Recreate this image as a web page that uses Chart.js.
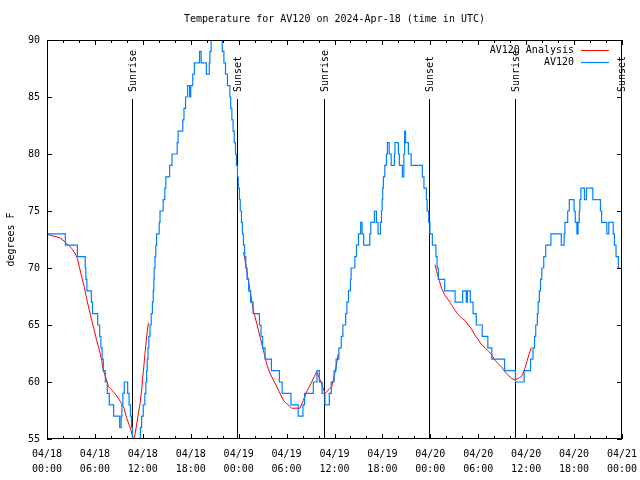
<!DOCTYPE html>
<html>
<head>
<meta charset="utf-8">
<script src="https://cdn.jsdelivr.net/npm/chart.js@4"></script>
<style>html,body{margin:0;padding:0;background:#fff}canvas{display:block}</style>
</head>
<body>
<canvas id="c" width="640" height="480"></canvas>
<script>
// ---------------- data ----------------
const titleText = 'Temperature for AV120 on 2024-Apr-18 (time in UTC)';
const yAxisTitle = 'degrees F';
const seriesNames = ['AV120 Analysis', 'AV120'];

const xTickHours = [0, 6, 12, 18, 24, 30, 36, 42, 48, 54, 60, 66, 72];
const xTickDates = ['04/18','04/18','04/18','04/18','04/19','04/19','04/19','04/19','04/20','04/20','04/20','04/20','04/21'];
const xTickTimes = ['00:00','06:00','12:00','18:00','00:00','06:00','12:00','18:00','00:00','06:00','12:00','18:00','00:00'];
const yTickValues = [55, 60, 65, 70, 75, 80, 85, 90];

const sunEventHours = [10.68, 23.83, 34.72, 47.87, 58.66, 71.9];
const sunEventNames = ['Sunrise', 'Sunset', 'Sunrise', 'Sunset', 'Sunrise', 'Sunset'];

// station observations: hour (since 04/18 00:00 UTC) at which the reading changed, and the new reading (°F)
const stationHours = [0,2.3,3.8,4.78,4.86,5.0,5.55,5.7,6.35,6.6,6.75,6.9,7.05,7.3,7.55,7.8,8.35,9.1,9.28,9.38,9.5,9.68,10.1,10.28,10.45,10.58,10.7,10.82,
11.45,11.7,11.85,12.05,12.25,12.38,12.48,12.55,12.65,12.75,12.9,13.05,13.2,13.3,13.38,13.42,13.52,13.62,13.72,14.05,14.15,14.55,14.75,14.88,15.35,15.65,16.3,16.42,17.0,17.15,17.35,17.6,17.85,18.0,18.25,18.45,19.1,19.3,19.95,20.32,20.4,20.55,20.7,
21.75,21.95,22.15,22.35,22.6,22.9,23.0,23.15,23.3,23.45,23.6,23.72,23.85,23.95,24.1,24.2,24.35,24.47,24.6,24.75,24.9,25.05,25.25,25.5,25.8,26.6,26.8,27.0,27.3,28.1,29.1,29.45,30.55,31.45,32.05,32.25,33.35,33.8,34.1,34.45,34.8,35.35,35.6,35.95,36.2,36.55,36.85,37.05,37.4,37.55,37.75,38.0,38.08,38.55,38.75,39.0,39.28,39.45,39.65,40.42,40.55,41.0,41.25,41.45,41.75,41.88,41.96,42.03,42.12,42.3,42.5,42.63,42.85,43.1,43.5,43.58,44.0,44.12,44.5,44.68,44.78,44.9,45.25,45.6,47.0,47.2,47.5,47.6,47.8,47.95,48.25,48.7,48.85,49.0,49.8,51.1,52.05,52.5,52.65,53.0,53.35,53.75,54.5,55.2,55.7,57.3,58.65,59.75,60.55,60.85,61.05,61.2,61.4,61.5,61.65,61.8,61.95,62.2,62.45,63.1,64.4,64.75,64.85,65.2,65.4,66.0,66.15,66.35,66.5,66.65,66.72,66.85,67.3,67.55,68.35,69.3,69.45,70.1,70.35,70.9,71.05,71.25,71.55,71.8];
const stationTemps = [73,72,71,70,69,68,67,66,65,64,63,62,61,60,59,58,57,56,57,58,59,60,59,58,57,56,55,54,
55,56,57,58,59,60,61,62,63,64,65,66,67,68,69,70,71,72,73,74,75,76,77,78,79,80,81,82,83,84,85,86,85,86,87,88,89,88,87,88,89,90,91,
90,89,88,87,86,85,84,83,82,81,80,79,78,77,76,75,74,73,72,71,70,69,68,67,66,65,64,63,62,61,60,59,58,57,58,59,60,61,60,59,58,59,60,61,62,63,64,65,66,67,68,69,70,71,72,73,74,73,72,73,74,75,74,73,74,75,76,77,78,79,80,81,80,79,80,81,80,79,78,80,82,81,80,79,78,77,76,75,74,73,72,71,70,69,68,67,68,67,68,67,66,65,64,63,62,61,60,61,62,63,64,65,66,67,68,69,70,71,72,73,72,73,74,75,76,75,74,73,74,75,76,77,76,77,76,75,74,73,74,73,72,71,70,70];

// analysis (smooth) series; null = no analysis
const analysisHours = [0,0.8,1.6,2.25,2.7,3.1,3.5,3.8,4.05,4.35,4.65,5.0,5.3,5.6,5.9,6.2,6.55,6.85,7.05,7.4,7.7,8.1,8.5,8.9,9.35,9.65,9.9,10.2,10.5,10.75,10.88,11.05,11.25,11.45,11.65,11.85,12.05,12.27,12.48,12.7,
18,
24.62,25.0,25.4,25.84,26.26,26.67,27.09,27.5,27.9,28.76,29.59,30.64,31.68,32.1,32.52,33.14,33.77,34.19,34.81,35.65,36.06,36.48,
42,
48.59,48.79,49.12,49.42,49.83,50.25,50.67,51.09,51.5,51.92,52.34,52.76,53.18,53.6,54.01,54.43,54.85,55.27,55.68,56.1,56.52,56.94,57.35,57.77,58.19,58.6,59.02,59.44,59.85,60.14,60.39,60.65];
const analysisTemps = [72.95,72.8,72.65,72.3,72.0,71.7,71.3,70.85,70.1,69.2,68.4,67.2,66.3,65.4,64.6,63.7,62.8,61.9,61.05,60.3,59.6,59.3,59.0,58.6,58.1,57.7,57.0,56.4,55.8,55.2,54.9,55.5,56.4,57.3,58.1,59.3,60.8,62.5,64.0,65.2,
null,
71.4,69.8,68.1,66.3,65.15,64.0,62.8,61.6,60.8,59.6,58.4,57.7,57.7,58.4,59.15,60.0,60.9,60.2,59.0,59.6,60.8,62.5,
null,
70.3,69.7,68.9,68.2,67.6,67.2,66.75,66.3,65.9,65.6,65.4,65.0,64.6,64.1,63.7,63.25,63.0,62.7,62.4,61.9,61.6,61.3,60.9,60.6,60.3,60.2,60.3,60.5,61.2,61.9,62.5,63.0];

// ---------------- style ----------------
const FONT = '10px "DejaVu Sans Mono", monospace';
const RED = '#ff0000';
const BLUE = '#0080ff';
const xMinorStep = 2;

const stationPoints = stationHours.map((h, i) => ({x: h, y: stationTemps[i]}));
const analysisPoints = analysisHours.map((h, i) => ({x: h, y: analysisTemps[i]}));

const decor = {
  id: 'decor',
  beforeDatasetsDraw(chart) {
    const {ctx, chartArea: a, scales: {x}} = chart;
    ctx.save();
    ctx.strokeStyle = '#000';
    ctx.lineWidth = 1;
    ctx.fillStyle = '#000';
    ctx.font = FONT;
    sunEventHours.forEach((h, i) => {
      const px = Math.round(x.getPixelForValue(h)) + 0.5;
      ctx.beginPath();
      ctx.moveTo(px, a.top + 59);
      ctx.lineTo(px, a.bottom);
      ctx.stroke();
      ctx.save();
      ctx.translate(px + 1, a.top + 52);
      ctx.rotate(-Math.PI / 2);
      ctx.textAlign = 'left';
      ctx.textBaseline = 'middle';
      ctx.fillText(sunEventNames[i], 0, 0);
      ctx.restore();
    });
    ctx.restore();
  },
  afterDatasetsDraw(chart) {
    const {ctx, chartArea: a, scales: {x, y}} = chart;
    ctx.save();
    ctx.strokeStyle = '#000';
    ctx.lineWidth = 1;
    // frame
    ctx.strokeRect(a.left + 0.5, a.top + 0.5, a.right - a.left - 1, a.bottom - a.top - 1);
    // x ticks (bottom and mirrored top)
    ctx.beginPath();
    for (let h = x.min; h <= x.max; h += xMinorStep) {
      const px = Math.round(x.getPixelForValue(h)) + 0.5;
      const len = xTickHours.includes(h) ? 5 : 3;
      ctx.moveTo(px, a.bottom); ctx.lineTo(px, a.bottom - len);
      ctx.moveTo(px, a.top); ctx.lineTo(px, a.top + len);
    }
    // y ticks (left and mirrored right)
    yTickValues.forEach(v => {
      const py = Math.round(y.getPixelForValue(v)) + 0.5;
      ctx.moveTo(a.left, py); ctx.lineTo(a.left + 5, py);
      ctx.moveTo(a.right, py); ctx.lineTo(a.right - 5, py);
    });
    ctx.stroke();
    // title
    ctx.fillStyle = '#000';
    ctx.font = FONT;
    ctx.textAlign = 'center';
    ctx.textBaseline = 'middle';
    ctx.fillText(titleText, (a.left + a.right) / 2, 19);
    // y axis title
    ctx.save();
    ctx.translate(11, (a.top + a.bottom) / 2);
    ctx.rotate(-Math.PI / 2);
    ctx.fillText(yAxisTitle, 0, 0);
    ctx.restore();
    // legend
    const colors = [RED, BLUE];
    seriesNames.forEach((name, i) => {
      const ly = a.top + 10 + i * 12;
      ctx.textAlign = 'right';
      ctx.fillStyle = '#000';
      ctx.fillText(name, a.right - 48, ly);
      ctx.strokeStyle = colors[i];
      ctx.lineWidth = i === 0 ? 1 : 1.2;
      ctx.beginPath();
      ctx.moveTo(a.right - 41, Math.round(ly) + 0.5);
      ctx.lineTo(a.right - 13, Math.round(ly) + 0.5);
      ctx.stroke();
    });
    ctx.restore();
  }
};

new Chart(document.getElementById('c'), {
  type: 'line',
  data: {
    datasets: [
      {label: seriesNames[1], data: stationPoints, borderColor: BLUE, borderWidth: 1.2, stepped: true, pointRadius: 0, fill: false},
      {label: seriesNames[0], data: analysisPoints, borderColor: RED, borderWidth: 1, pointRadius: 0, fill: false, spanGaps: false, tension: 0}
    ]
  },
  options: {
    responsive: false,
    animation: false,
    devicePixelRatio: 1,
    layout: {padding: {top: 40, right: 18, left: 0, bottom: 0}},
    plugins: {legend: {display: false}, title: {display: false}, tooltip: {enabled: false}},
    scales: {
      x: {
        type: 'linear', min: 0, max: 72,
        grid: {display: false, drawTicks: false},
        border: {display: false},
        ticks: {
          stepSize: 6, autoSkip: false, maxRotation: 0, padding: 8, color: '#000',
          font: {family: '"DejaVu Sans Mono", monospace', size: 10, lineHeight: 1.5},
          callback: (v) => { const i = xTickHours.indexOf(v); return i >= 0 ? [xTickDates[i], xTickTimes[i]] : ''; }
        },
        afterFit: (s) => { s.height = 41; s.paddingLeft = 0; s.paddingRight = 0; }
      },
      y: {
        min: 55, max: 90,
        grid: {display: false, drawTicks: false},
        border: {display: false},
        ticks: {
          stepSize: 5, padding: 7, color: '#000',
          font: {family: '"DejaVu Sans Mono", monospace', size: 10}
        },
        afterFit: (s) => { s.width = 47; s.paddingTop = 0; s.paddingBottom = 0; }
      }
    }
  },
  plugins: [decor]
});
</script>
</body>
</html>
